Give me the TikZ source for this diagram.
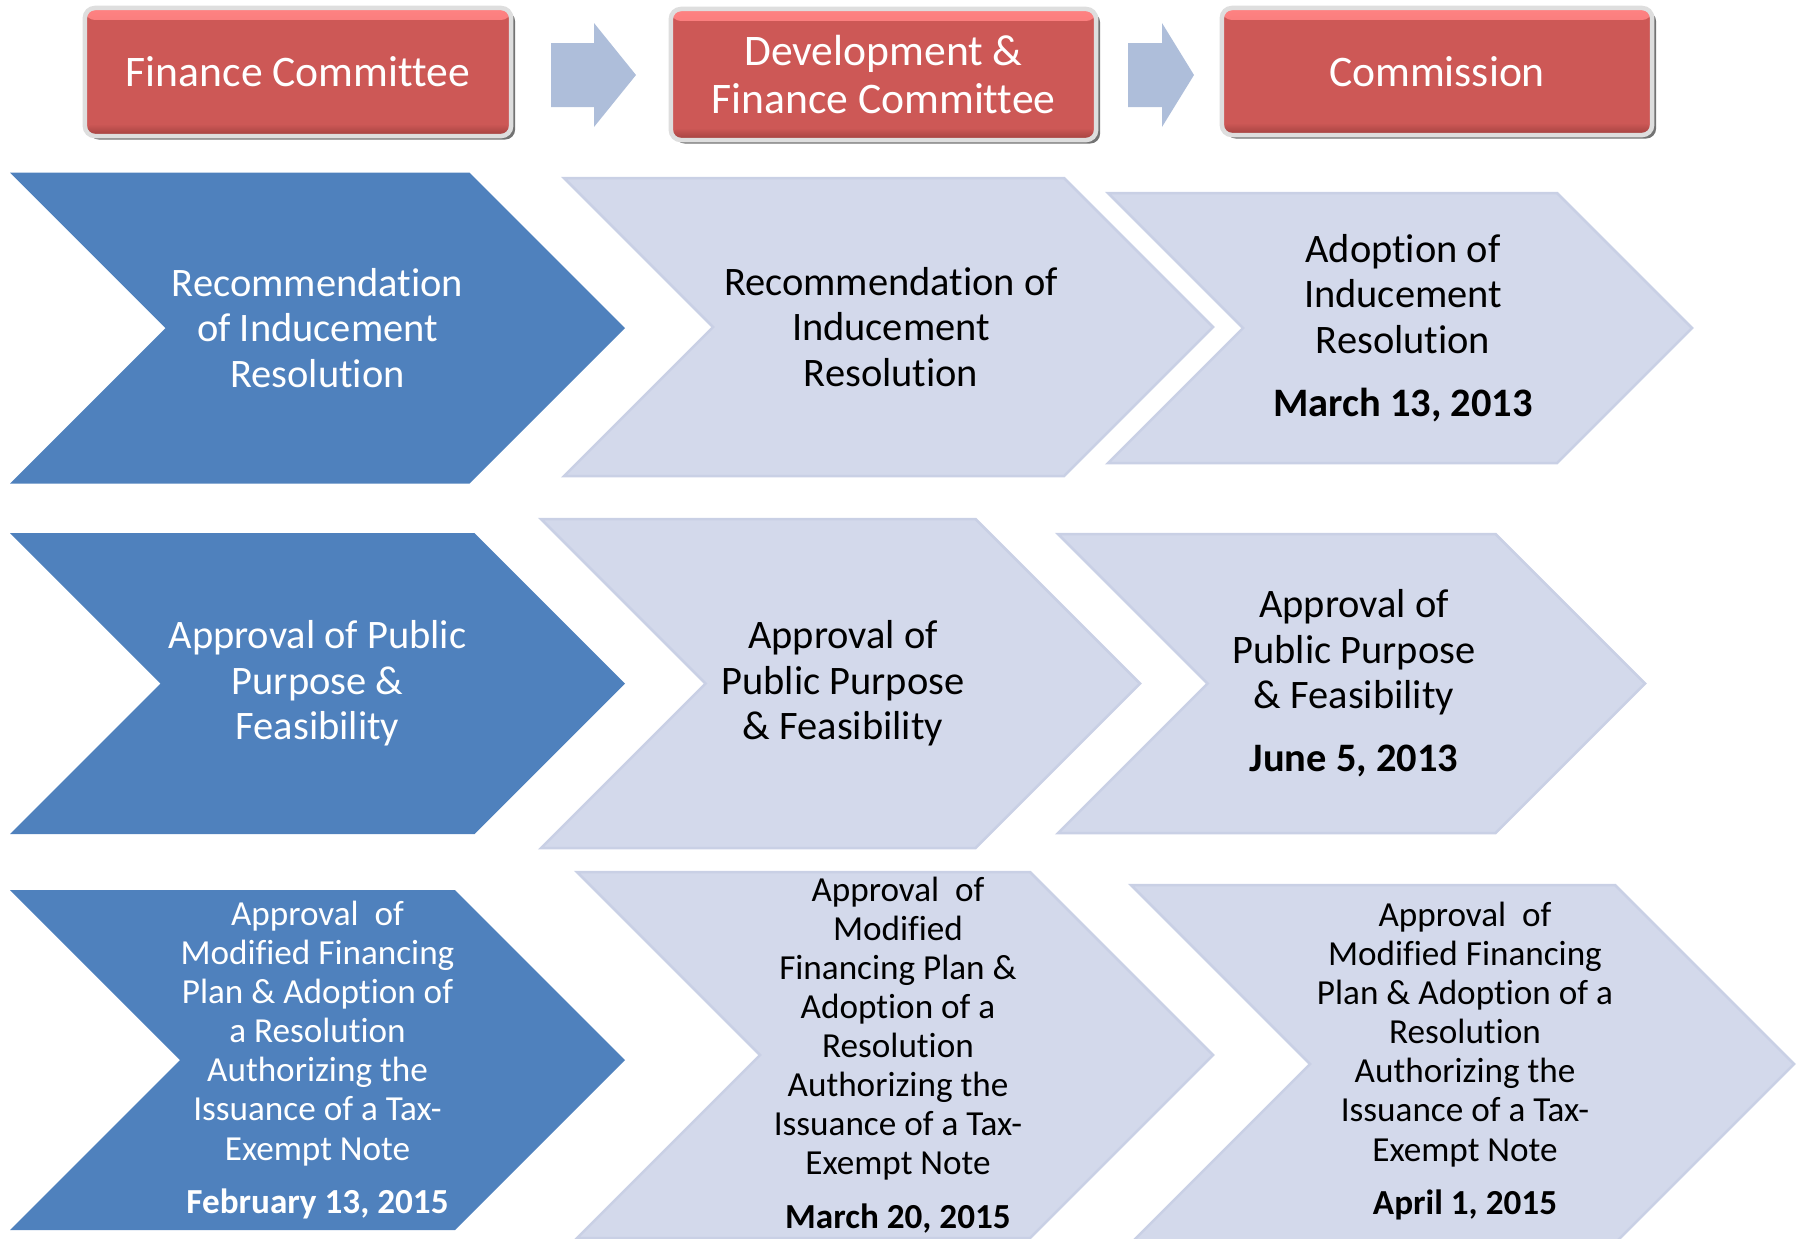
\documentclass[tikz,border=0pt]{standalone}
\usepackage{fontspec}
\setmainfont{Carlito}[Ligatures=NoCommon]
\usetikzlibrary{shadows}

\definecolor{chevblue}{RGB}{79,129,189}
\definecolor{chevpale}{RGB}{211,217,235}
\definecolor{chevedge}{RGB}{201,208,229}
\definecolor{arrowblue}{RGB}{174,190,218}
\definecolor{hdred}{RGB}{205,88,86}
\definecolor{hdredlite}{RGB}{255,130,130}
\definecolor{hdreddark}{RGB}{160,64,62}
\definecolor{hdframe}{RGB}{222,222,222}

\tikzset{
  headbox/.style={rounded corners=1mm, draw=hdframe, line width=0.45mm, fill=hdred,
    text=white, align=center, inner sep=0pt, font=\fontsize{12.4}{13.7}\selectfont,
    drop shadow={shadow xshift=0.4mm, shadow yshift=-0.35mm, fill=black, opacity=0.55},
    path picture={
      \shade[top color=hdredlite, bottom color=hdred] (path picture bounding box.north west)
        rectangle ([yshift=-1.2mm]path picture bounding box.north east);
      \shade[top color=hdred, bottom color=hdreddark] ([yshift=1.2mm]path picture bounding box.south west)
        rectangle (path picture bounding box.south east);}},
  bluechev/.style={fill=chevblue},
  palechev/.style={fill=chevpale, draw=chevedge, line width=0.25mm},
  hdarrow/.style={fill=arrowblue},
  steptext/.style={align=center, inner sep=0pt, font=\fontsize{11.5}{12.9}\selectfont},
  smalltext/.style={align=center, inner sep=0pt, font=\fontsize{10}{11.1}\selectfont},
  onblue/.style={text=white},
}

% chevron: style, left x, tip x, centre y, half height
\newcommand\chevshape[5]{%
  \fill[#1] (#2,#4-#5) -- (#3-#5,#4-#5) -- (#3,#4) -- (#3-#5,#4+#5) -- (#2,#4+#5) -- (#2+#5,#4) -- cycle;}
% block arrow: tail x, head base x, tip x
\newcommand\hdarrowshape[3]{%
  \fill[hdarrow] (#1,43) -- (#2,43) -- (#2,23) -- (#3,75) -- (#2,127) -- (#2,107) -- (#1,107) -- cycle;}

\begin{document}
\begin{tikzpicture}[x=0.01cm, y=-0.01cm]
  \useasboundingbox (0,0) rectangle (1796,1238);

  % committees
  \node[headbox, minimum width=42.6mm, minimum height=12.8mm] (fc) at (298,72) {Finance Committee};
  \node[headbox, minimum width=42.5mm, minimum height=13.1mm] (dfc) at (883.5,74.5) {Development \&\\Finance Committee};
  \node[headbox, minimum width=43.0mm, minimum height=12.7mm] (cm) at (1437,71.5) {Commission};
  \hdarrowshape{551}{594}{636}
  \hdarrowshape{1128}{1162}{1194}

  % inducement resolution
  \chevshape{bluechev}{10}{625}{328}{155.5}
  \chevshape{palechev}{564}{1213}{327}{149}
  \chevshape{palechev}{1108}{1692}{328}{135}
  \node[steptext, onblue] (fcinduce) at (317.5,328) {Recommendation\\of Inducement\\Resolution};
  \node[steptext] (dfcinduce) at (891,327) {Recommendation of\\Inducement\\Resolution};
  \node[steptext] (cminduce) at (1403,328) {Adoption of\\Inducement\\Resolution\\[5pt]{\bfseries March 13, 2013}};

  % public purpose
  \chevshape{bluechev}{10}{625}{683.5}{150.5}
  \chevshape{palechev}{541}{1140}{683.5}{164.5}
  \chevshape{palechev}{1058}{1645}{683.5}{149.5}
  \node[steptext, onblue] (fcpurpose) at (317.5,683.5) {Approval of Public\\Purpose \&\\Feasibility};
  \node[steptext] (dfcpurpose) at (843,683.5) {Approval of\\Public Purpose\\\& Feasibility};
  \node[steptext] (cmpurpose) at (1354,683.5) {Approval of\\Public Purpose\\\& Feasibility\\[5pt]{\bfseries June 5, 2013}};

  % tax-exempt note
  \chevshape{bluechev}{10}{625}{1060}{170}
  \chevshape{palechev}{577}{1213}{1055}{183}
  \chevshape{palechev}{1131}{1794}{1064}{179}
  \node[smalltext, onblue] (fcnote) at (317.5,1060) {Approval\ \ of\\Modified Financing\\Plan \& Adoption of\\a Resolution\\Authorizing the\\Issuance of a Tax-\\Exempt Note\\[4pt]{\bfseries February 13, 2015}};
  \node[smalltext] (dfcnote) at (898,1055) {Approval\ \ of\\Modified\\Financing Plan \&\\Adoption of a\\Resolution\\Authorizing the\\Issuance of a Tax-\\Exempt Note\\[4pt]{\bfseries March 20, 2015}};
  \node[smalltext] (cmnote) at (1465,1061) {Approval\ \ of\\Modified Financing\\Plan \& Adoption of a\\Resolution\\Authorizing the\\Issuance of a Tax-\\Exempt Note\\[4pt]{\bfseries April 1, 2015}};
\end{tikzpicture}
\end{document}
